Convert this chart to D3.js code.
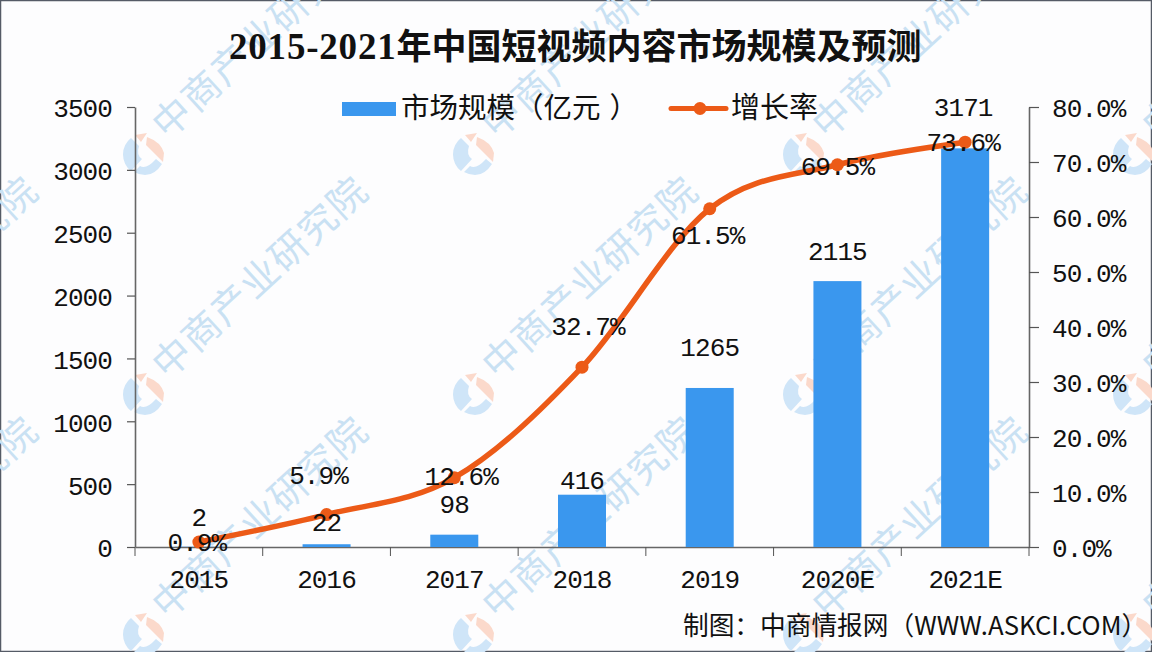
<!DOCTYPE html>
<html>
<head>
<meta charset="utf-8">
<script src="https://cdn.jsdelivr.net/npm/d3@7"></script>
<style>
  html, body { margin: 0; padding: 0; background: #fff; }
  text { fill: #111; }
  .num { font-family: "Liberation Mono", monospace; font-size: 26px; letter-spacing: -0.9px; }
  .cjk { font-family: "Noto Sans CJK SC", sans-serif; }
</style>
</head>
<body>
<div class="chart"></div>
<script>
// data
var years = ["2015", "2016", "2017", "2018", "2019", "2020E", "2021E"];
var marketSize = [2, 22, 98, 416, 1265, 2115, 3171];
var growthRate = [0.9, 5.9, 12.6, 32.7, 61.5, 69.5, 73.6];
var leftTicks = [0, 500, 1000, 1500, 2000, 2500, 3000, 3500];
var rightTicks = [0, 10, 20, 30, 40, 50, 60, 70, 80];

var titleYears = "2015-2021";
var titleRest = "年中国短视频内容市场规模及预测";
var legendBar = "市场规模（亿元";
var legendBarEnd = "）";
var legendLine = "增长率";
var sourceNote = "制图：中商情报网（WWW.ASKCI.COM）";
var watermarkText = "中商产业研究院";

var svgWidth = 1152;
var svgHeight = 652;
var margin = { top: 107, right: 123, bottom: 105, left: 135 };
var width = svgWidth - margin.left - margin.right;
var height = svgHeight - margin.top - margin.bottom;

var blue = "#3a97ee";
var orange = "#ec5a17";

// label nudges, px from each mark
var barLabelDx = [0, 0, 0, 0, 0, 0, -2];
var barLabelDy = [-30, -22, -31, -15, -41, -30, -41];
var rateLabelDx = [-2, -8, 7, 6, -2, 0, -2];
var rateLabelDy = [0, -40, -2, -41, 26, 1, 0];

var svg = d3.select(".chart")
  .append("svg")
  .attr("width", svgWidth)
  .attr("height", svgHeight)
  .style("display", "block");

svg.append("rect")
  .attr("x", 0.5).attr("y", 0.5)
  .attr("width", svgWidth - 1).attr("height", svgHeight - 1)
  .attr("fill", "#fdfdfe")
  .attr("stroke", "#555b66")
  .attr("stroke-width", 1.5);

// Watermark, sits behind the chart
var logoCols = [-187, 143, 473, 803, 1133];
var logoRows = [154, 394, 634];

var wm = svg.append("g");
logoRows.forEach(function(ly) {
  logoCols.forEach(function(lx) {
    var logo = wm.append("g").attr("transform", `translate(${lx}, ${ly})`);
    logo.append("path")
      .attr("d", "M-12,-16 A21,21 0 0,0 -12,17 L-1,5 Q-7,1 -4,-8 Z")
      .attr("fill", "#cfe5f8");
    logo.append("path")
      .attr("d", "M-9,18 Q8,27 19,10 L13,5 Q3,16 -3,12 Z")
      .attr("fill", "#cfe5f8");
    logo.append("path")
      .attr("d", "M4,-17 Q18,-12 21,-1 L20,8 L3,-9 Z")
      .attr("fill", "#fbd9cb");
    logo.append("path")
      .attr("d", "M-8,-19 L4,-21 L-2,-12 Z")
      .attr("fill", "#fbd9cb");

    wm.append("text")
      .attr("class", "cjk")
      .attr("transform", `translate(${lx + 117}, ${ly - 117}) rotate(-42.5)`)
      .attr("text-anchor", "middle")
      .attr("dy", "0.36em")
      .attr("font-size", 38)
      .style("letter-spacing", "1.5px")
      .style("fill", "#c9e1f3")
      .text(watermarkText);
  });
});

var chartGroup = svg.append("g")
  .attr("transform", `translate(${margin.left}, ${margin.top})`);

// Scales
var xScale = d3.scaleBand()
  .domain(years)
  .range([0, width]);

var yLeft = d3.scaleLinear()
  .domain([0, 3500])
  .range([height, 0]);

var yRight = d3.scaleLinear()
  .domain([0, 80])
  .range([height, 0]);

// Axes
var bottomAxis = d3.axisBottom(xScale).tickSize(0).tickPadding(23);
var leftAxis = d3.axisLeft(yLeft)
  .tickValues(leftTicks)
  .tickSize(8)
  .tickSizeOuter(0)
  .tickPadding(15)
  .tickFormat(d => d);
var rightAxis = d3.axisRight(yRight)
  .tickValues(rightTicks)
  .tickSize(10)
  .tickSizeOuter(0)
  .tickPadding(13)
  .tickFormat(d => d.toFixed(1) + "%");

var gx = chartGroup.append("g")
  .attr("transform", `translate(0, ${height})`)
  .call(bottomAxis);

// tick marks sit between the categories
gx.selectAll(".sep")
  .data(d3.range(years.length + 1))
  .enter()
  .append("line")
  .attr("x1", d => d * xScale.step())
  .attr("x2", d => d * xScale.step())
  .attr("y1", 0)
  .attr("y2", 9)
  .attr("stroke", "#555");

var gl = chartGroup.append("g").call(leftAxis);
var gr = chartGroup.append("g")
  .attr("transform", `translate(${width}, 0)`)
  .call(rightAxis);

[gx, gl, gr].forEach(function(g) {
  g.attr("font-family", null).attr("font-size", null);
  g.selectAll("text").attr("class", "num");
  g.selectAll(".domain").attr("stroke", "#666").attr("stroke-width", 1.6);
  g.selectAll(".tick line").attr("stroke", "#555").attr("stroke-width", 1.2);
});
gl.selectAll("text").attr("dy", "0.38em");
gr.selectAll("text").attr("dy", "0.38em");

// Bars
var barWidth = 48;
chartGroup.selectAll(".bar")
  .data(marketSize)
  .enter()
  .append("rect")
  .attr("class", "bar")
  .attr("x", (d, i) => xScale(years[i]) + xScale.bandwidth() / 2 - barWidth / 2)
  .attr("y", d => yLeft(d))
  .attr("width", barWidth)
  .attr("height", d => height - yLeft(d))
  .attr("fill", blue);

// Growth line
var cx = (d, i) => xScale(years[i]) + xScale.bandwidth() / 2;

var line = d3.line()
  .x(cx)
  .y(d => yRight(d))
  .curve(d3.curveCatmullRom.alpha(0));

chartGroup.append("path")
  .datum(growthRate)
  .attr("d", line)
  .attr("fill", "none")
  .attr("stroke", orange)
  .attr("stroke-width", 5.5)
  .attr("stroke-linecap", "round");

chartGroup.selectAll(".dot")
  .data(growthRate)
  .enter()
  .append("circle")
  .attr("class", "dot")
  .attr("cx", cx)
  .attr("cy", d => yRight(d))
  .attr("r", 6.5)
  .attr("fill", orange);

// Data labels
chartGroup.selectAll(".bar-label")
  .data(marketSize)
  .enter()
  .append("text")
  .attr("class", "bar-label num")
  .attr("x", (d, i) => cx(d, i) + barLabelDx[i])
  .attr("y", (d, i) => yLeft(d) + barLabelDy[i])
  .attr("text-anchor", "middle")
  .attr("dy", "0.35em")
  .text(d => d);

chartGroup.selectAll(".rate-label")
  .data(growthRate)
  .enter()
  .append("text")
  .attr("class", "rate-label num")
  .attr("x", (d, i) => cx(d, i) + rateLabelDx[i])
  .attr("y", (d, i) => yRight(d) + rateLabelDy[i])
  .attr("text-anchor", "middle")
  .attr("dy", "0.35em")
  .text(d => d.toFixed(1) + "%");

// Title
var title = svg.append("text")
  .attr("x", 229)
  .attr("y", 59)
  .attr("font-weight", 700);
title.append("tspan")
  .attr("font-family", "Liberation Serif")
  .attr("font-size", 37)
  .style("letter-spacing", "0.8px")
  .text(titleYears);
title.append("tspan")
  .attr("class", "cjk")
  .attr("font-size", 35)
  .text(titleRest);

// Legend
svg.append("rect")
  .attr("x", 342).attr("y", 102)
  .attr("width", 54).attr("height", 14)
  .attr("fill", blue);
var legendText = svg.append("text")
  .attr("class", "cjk")
  .attr("x", 401).attr("y", 118)
  .attr("font-size", 28.5);
legendText.append("tspan").text(legendBar);
legendText.append("tspan").attr("dx", 9).text(legendBarEnd);

svg.append("line")
  .attr("x1", 671).attr("x2", 726)
  .attr("y1", 108.5).attr("y2", 108.5)
  .attr("stroke", orange)
  .attr("stroke-width", 5)
  .attr("stroke-linecap", "round");
svg.append("circle")
  .attr("cx", 700).attr("cy", 108.5)
  .attr("r", 6.5)
  .attr("fill", orange);
svg.append("text")
  .attr("class", "cjk")
  .attr("x", 731).attr("y", 118)
  .attr("font-size", 29)
  .text(legendLine);

// Source note
svg.append("text")
  .attr("class", "cjk")
  .attr("x", 683).attr("y", 635)
  .attr("font-size", 25.7)
  .text(sourceNote);
</script>
</body>
</html>
